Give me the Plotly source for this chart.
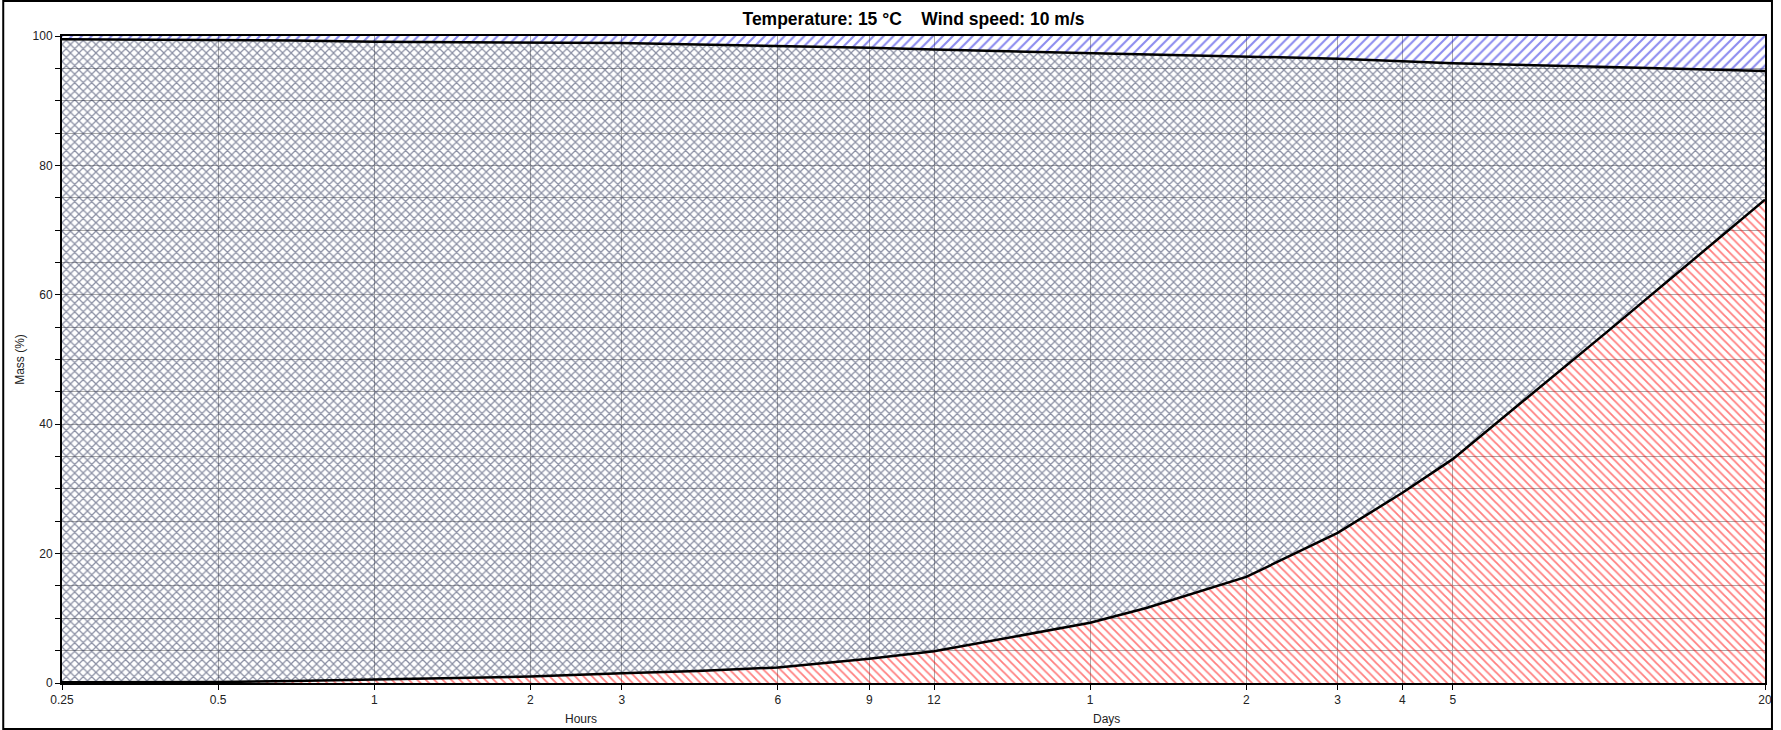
import math
import plotly.graph_objects as go

# Time in hours (log axis)
hours = [0.25, 0.5, 0.7, 1, 2, 3, 4.2, 6, 9, 12, 24, 30.8, 48, 72, 96, 120, 240, 480]
# Evaporated (%), lower curve
evaporated = [0.1, 0.15, 0.3, 0.5, 1.0, 1.5, 1.85, 2.4, 3.75, 4.9, 9.3, 11.6, 16.4, 23.2, 29.4, 34.6, 54.5, 74.7]
# Upper curve (%)
upper = [99.5, 99.4, 99.3, 99.1, 99.0, 98.9, 98.7, 98.5, 98.2, 97.9, 97.4, 97.2, 96.9, 96.5, 96.1, 95.8, 95.2, 94.6]
top = [100] * len(hours)

tick_vals = [0.25, 0.5, 1, 2, 3, 6, 9, 12, 24, 48, 72, 96, 120, 480]
tick_text = ["0.25", "0.5", "1", "2", "3", "6", "9", "12", "1", "2", "3", "4", "5", "20"]
y_ticks = list(range(0, 101, 5))
y_text = [str(v) if v % 20 == 0 else "" for v in y_ticks]

FONT = "Liberation Sans, Arial, sans-serif"
TRANSP = "rgba(255,255,255,0)"

TOP, BOT = 36, 47
PH = 730 - TOP - BOT

fig = go.Figure()
fig.add_trace(go.Scatter(
    x=hours, y=evaporated, mode="lines", fill="tozeroy",
    line=dict(color="black", width=2.5),
    fillcolor=TRANSP,
    fillpattern=dict(shape="\\", fgcolor="#ff0000", bgcolor=TRANSP, size=6, solidity=0.3),
    showlegend=False, hoverinfo="skip"))
fig.add_trace(go.Scatter(
    x=hours, y=upper, mode="lines", fill="tonexty",
    line=dict(color="black", width=2.5),
    fillcolor=TRANSP,
    fillpattern=dict(shape="x", fgcolor="#18214a", bgcolor=TRANSP, size=6, solidity=0.38),
    showlegend=False, hoverinfo="skip"))
fig.add_trace(go.Scatter(
    x=hours, y=top, mode="lines", fill="tonexty",
    line=dict(color="black", width=0),
    fillcolor=TRANSP,
    fillpattern=dict(shape="/", fgcolor="#1a1ae0", bgcolor=TRANSP, size=7, solidity=0.3),
    showlegend=False, hoverinfo="skip"))

fig.update_layout(
    width=1781, height=730,
    margin=dict(l=62, r=9, t=TOP, b=BOT),
    paper_bgcolor="white", plot_bgcolor="white",
    font=dict(family=FONT, size=12, color="#222"),
    title=dict(text="<b>Temperature: 15 °C    Wind speed: 10 m/s</b>",
               x=0.5, xref="paper", xanchor="center", y=1 - 19 / 730, yanchor="middle",
               font=dict(family=FONT, size=17.5, color="black")),
)
fig.update_xaxes(
    type="log", range=[math.log10(0.25), math.log10(480)],
    tickvals=tick_vals, ticktext=tick_text,
    showgrid=True, gridcolor="#a8a8a8", gridwidth=1,
    showline=True, linecolor="black", linewidth=2, mirror=True,
    ticks="outside", ticklen=5, tickcolor="black", zeroline=False,
    tickfont=dict(family=FONT, size=12, color="#222"),
)
fig.update_yaxes(
    range=[0, 100], tickvals=y_ticks, ticktext=y_text,
    showgrid=True, gridcolor="#a8a8a8", gridwidth=1,
    showline=True, linecolor="black", linewidth=2, mirror=True,
    ticks="outside", ticklen=5, tickcolor="black", zeroline=False,
    tickfont=dict(family=FONT, size=12, color="#222"),
    title=dict(text="Mass (%)", font=dict(family=FONT, size=12, color="#222"), standoff=5),
)
fig.add_annotation(text="Hours", xref="paper", yref="paper", x=(565 - 62) / 1710, y=-36 / PH,
                   showarrow=False, font=dict(family=FONT, size=12, color="#222"), yanchor="middle")
fig.add_annotation(text="Days", xref="paper", yref="paper", x=(1111 - 62) / 1710, y=-36 / PH,
                   showarrow=False, font=dict(family=FONT, size=12, color="#222"), yanchor="middle")
fig.add_shape(type="rect", xref="paper", yref="paper",
              x0=(3 - 62) / 1710, x1=(1779 - 62) / 1710,
              y0=(730 - BOT - 729) / PH, y1=(730 - BOT - 1) / PH,
              line=dict(color="black", width=2), fillcolor="rgba(0,0,0,0)", layer="above")

fig.write_html(
    "out.html",
    config={"displayModeBar": False},
    post_script="document.body.style.margin='0';document.body.style.padding='0';"
                "document.documentElement.style.overflow='hidden';document.body.style.overflow='hidden';",
)
